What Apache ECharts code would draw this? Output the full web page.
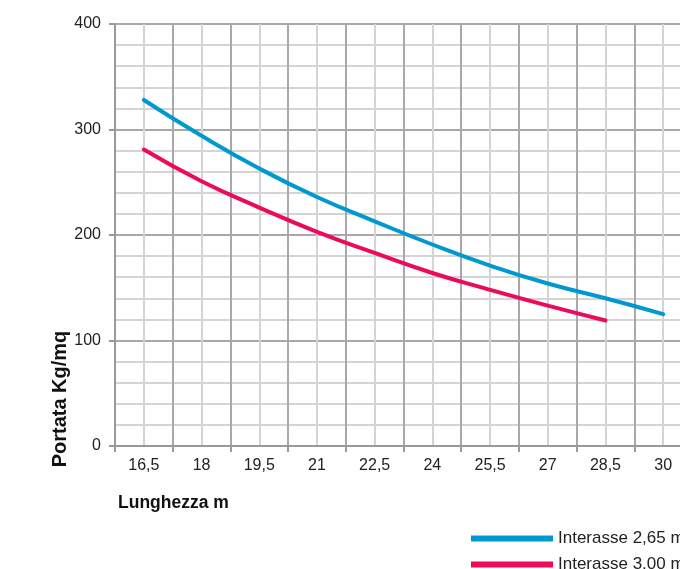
<!DOCTYPE html>
<html>
<head>
<meta charset="utf-8">
<script src="https://cdn.jsdelivr.net/npm/echarts@6/dist/echarts.min.js"></script>
<style>
html,body{margin:0;padding:0;background:#fff;}
#chart{width:680px;height:569px;}
</style>
</head>
<body>
<div id="chart"></div>
<script>
var xCategories = ['16,5','18','19,5','21','22,5','24','25,5','27','28,5','30'];
var xValues = [16.5, 18, 19.5, 21, 22.5, 24, 25.5, 27, 28.5, 30];
var blueValues = [328, 294, 263, 236, 213, 191, 171, 154, 140, 125];
var redValues = [281, 251, 226, 203, 183, 164, 148, 133, 119];
var seriesNames = ['Interasse 2,65 m', 'Interasse 3,00 m'];
var yTitle = 'Portata Kg/mq';
var xTitle = 'Lunghezza m';

var FONT = "'Liberation Sans',Arial,Helvetica,sans-serif";
function pairs(xs, ys){ return ys.map(function(v,i){ return [xs[i], v]; }); }

var legendBase = {orient:'vertical', left:466, padding:5, icon:'rect', itemWidth:82, itemHeight:6,
  textStyle:{fontSize:17, color:'#222', fontFamily:FONT}};

var chart = echarts.init(document.getElementById('chart'), null, {renderer:'canvas'});
chart.setOption({
  animation:false,
  backgroundColor:'#fff',
  grid:{left:115, top:24, width:577, height:422, containLabel:false, outerBoundsMode:'none'},
  xAxis:[
    {type:'category', data:xCategories, boundaryGap:true, position:'bottom',
     axisLine:{show:true, lineStyle:{color:'#9a9a9a', width:2}},
     axisTick:{show:true, length:6, lineStyle:{color:'#9a9a9a', width:2}},
     axisLabel:{margin:12, fontSize:16, color:'#222', fontFamily:FONT},
     splitLine:{show:false}},
    {type:'value', min:15.75, max:30.75, interval:0.75, position:'bottom',
     axisLine:{show:false}, axisTick:{show:false}, axisLabel:{show:false},
     splitLine:{show:true, lineStyle:{color:['#a8a8a8','#d4d4d4'], width:2}}}
  ],
  yAxis:{type:'value', min:0, max:400, interval:100,
    axisLine:{show:true, lineStyle:{color:'#9a9a9a', width:2}},
    axisTick:{show:true, length:6, lineStyle:{color:'#9a9a9a', width:2}},
    axisLabel:{margin:14, fontSize:16, color:'#222', fontFamily:FONT},
    splitLine:{show:true, lineStyle:{color:'#a8a8a8', width:2}},
    minorTick:{show:false, splitNumber:5},
    minorSplitLine:{show:true, lineStyle:{color:'#d4d4d4', width:2}}
  },
  legend:[
    Object.assign({}, legendBase, {top:525, data:[seriesNames[0]]}),
    Object.assign({}, legendBase, {top:551, data:[seriesNames[1]]})
  ],
  series:[
    {name:seriesNames[0], type:'line', xAxisIndex:1, smooth:true, symbol:'none',
     color:'#0099cf', lineStyle:{width:4, cap:'round'}, data:pairs(xValues, blueValues)},
    {name:seriesNames[1], type:'line', xAxisIndex:1, smooth:true, symbol:'none',
     color:'#ec0a5c', lineStyle:{width:4, cap:'round'}, data:pairs(xValues, redValues)}
  ],
  graphic:[
    {type:'text', left:118, top:494, style:{text:xTitle, fontSize:17.5, fontWeight:'bold', fill:'#111', fontFamily:FONT}},
    {type:'text', x:60, y:399, rotation:Math.PI/2, style:{text:yTitle, fontSize:20, fontWeight:'bold', fill:'#111', fontFamily:FONT, align:'center', verticalAlign:'middle'}}
  ]
});
</script>
</body>
</html>
